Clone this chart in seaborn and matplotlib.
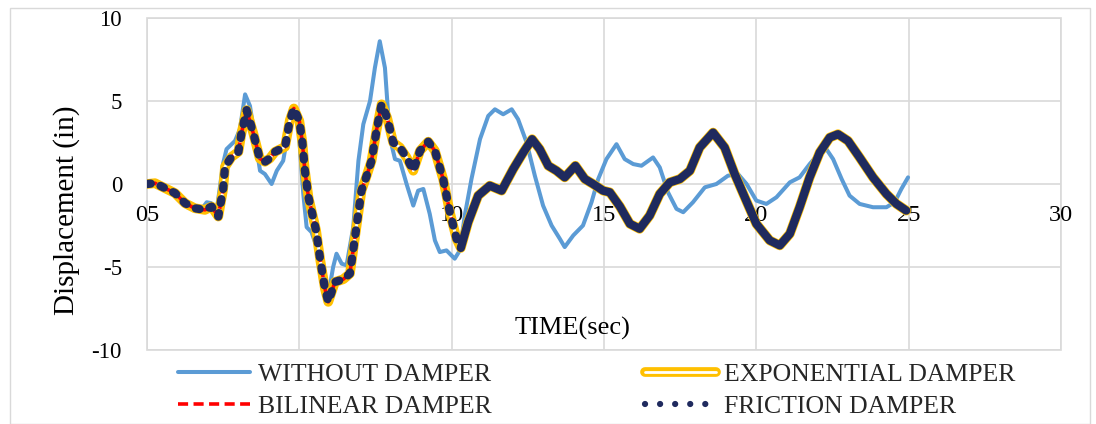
import matplotlib
matplotlib.use("Agg")
import matplotlib.pyplot as plt
import matplotlib.patheffects as pe
from matplotlib.patches import Rectangle
from matplotlib.lines import Line2D
import seaborn as sns

# ---------------- data ----------------
t_without = [0, 0.26, 0.6, 0.92, 1.25, 1.57, 1.8, 1.96, 2.1, 2.28, 2.5, 2.61, 2.89, 3.05, 3.22,
             3.38, 3.54, 3.71, 3.87, 4.09, 4.26, 4.47, 4.64, 4.75, 4.86, 4.97, 5.13, 5.24, 5.4,
             5.57, 5.78, 5.94, 6.11, 6.22, 6.39, 6.55, 6.77, 6.94, 7.1, 7.32, 7.48, 7.64, 7.81,
             7.97, 8.14, 8.3, 8.52, 8.74, 8.9, 9.07, 9.28, 9.45, 9.61, 9.83, 10.1, 10.27, 10.43,
             10.65, 10.93, 11.2, 11.42, 11.69, 11.97, 12.18, 12.46, 12.73, 13.0, 13.28, 13.55,
             13.71, 13.99, 14.31, 14.59, 14.81, 15.08, 15.41, 15.68, 15.96, 16.23, 16.61, 16.83,
             17.1, 17.38, 17.6, 17.92, 18.31, 18.69, 19.07, 19.4, 19.68, 20.0, 20.33, 20.66,
             21.1, 21.42, 21.75, 22.03, 22.3, 22.52, 22.8, 23.06, 23.39, 23.83, 24.27, 24.54,
             24.76, 24.98]
d_without = [0.0, 0.05, -0.26, -0.55, -1.16, -1.46, -1.5, -1.1, -1.15, -1.7, 1.25, 2.1, 2.6, 3.3, 5.4,
             4.7, 2.8, 0.8, 0.6, 0.0, 0.8, 1.4, 3.2, 4.4, 4.4, 3.4, -0.6, -2.6, -2.9,
             -3.8, -6.0, -6.8, -5.0, -4.2, -4.8, -4.9, -2.6, 1.4, 3.6, 5.0, 7.0, 8.6, 7.0,
             2.8, 1.5, 1.4, 0.0, -1.3, -0.4, -0.3, -1.8, -3.4, -4.1, -4.0, -4.5, -4.0, -1.9,
             0.3, 2.7, 4.1, 4.5, 4.2, 4.5, 3.9, 2.5, 0.5, -1.3, -2.5, -3.3,
             -3.8, -3.1, -2.5, -1.1, 0.3, 1.5, 2.4, 1.5, 1.2, 1.1, 1.6, 1.0,
             -0.5, -1.5, -1.7, -1.1, -0.2, 0.0, 0.5, 0.6, 0.0, -1.0, -1.2, -0.8,
             0.1, 0.4, 1.2, 1.8, 2.1, 1.5, 0.3, -0.7, -1.2, -1.4, -1.4, -1.1,
             -0.3, 0.4]

t_damped = [0, 0.26, 0.6, 0.92, 1.25, 1.57, 1.9, 2.12, 2.34, 2.5, 2.56, 2.78, 3.0, 3.1, 3.27, 3.49,
            3.7, 3.87, 4.03, 4.2, 4.53, 4.69, 4.82, 5.0, 5.1, 5.18, 5.3, 5.45, 5.55, 5.68, 5.84,
            5.95, 6.17, 6.44, 6.66, 6.88, 7.04, 7.21, 7.37, 7.54, 7.7, 7.88, 8.08, 8.3, 8.52,
            8.74, 8.96, 9.23, 9.45, 9.72, 9.94, 10.16, 10.3, 10.54, 10.87, 11.25, 11.64, 12.02,
            12.35, 12.64, 12.89, 13.17, 13.44, 13.71, 14.06, 14.37, 14.64, 14.97, 15.19, 15.52,
            15.85, 16.17, 16.5, 16.83, 17.16, 17.49, 17.82, 18.14, 18.58, 18.96, 19.29, 19.62,
            20.0, 20.44, 20.77, 21.1, 21.42, 21.75, 22.08, 22.41, 22.68, 23.01, 23.39, 23.83,
            24.27, 24.6, 24.92]
# exponential, bilinear and friction damper responses coincide on the chart
d_exponential = [0.0, 0.05, -0.26, -0.55, -1.16, -1.46, -1.56, -1.36, -1.96, -0.3, 1.04, 1.64, 1.94,
                 3.05, 4.45, 3.05, 1.54, 1.34, 1.54, 1.94, 2.24, 3.85, 4.55, 3.8, 2.5, 0.85, -0.8,
                 -2.0, -2.8, -4.5, -6.3, -7.1, -5.9, -5.74, -5.4, -2.5, -0.4, 0.5, 1.4, 3.3, 4.8,
                 4.0, 2.5, 2.2, 1.6, 0.8, 2.0, 2.55, 2.0, 0.3, -1.7, -3.3, -3.85, -2.3, -0.7, -0.1,
                 -0.4, 0.9, 1.9, 2.7, 2.1, 1.1, 0.8, 0.4, 1.1, 0.3, 0.0, -0.4, -0.5, -1.35, -2.4,
                 -2.7, -1.9, -0.6, 0.1, 0.3, 0.8, 2.2, 3.1, 2.2, 0.6, -0.8, -2.4, -3.4, -3.7, -3.0,
                 -1.4, 0.4, 1.9, 2.8, 3.0, 2.6, 1.6, 0.4, -0.6, -1.2, -1.6]
d_bilinear = list(d_exponential)
d_friction = list(d_exponential)

y_ticks = [-10, -5, 0, 5, 10]
x_ticks = [0, 5, 10, 15, 20, 25, 30]
x_tick_labels = ["05", "", "10", "15", "20", "25", "30"]

labels = ["WITHOUT DAMPER", "EXPONENTIAL DAMPER", "BILINEAR DAMPER", "FRICTION DAMPER"]

# ---------------- style ----------------
sns.set_theme(style="white")
plt.rcParams["font.family"] = ["Liberation Serif", "DejaVu Serif"]

GRID = "#D9D9D9"
C_BLUE = "#5B9BD5"
C_YEL = "#FFC000"
C_RED = "#FF0000"
C_NAVY = "#1F2A5E"

fig = plt.figure(figsize=(10.96, 4.24), dpi=100)
fig.patches.append(Rectangle((10 / 1096, 0), 1080 / 1096, 1 - 8 / 424, transform=fig.transFigure,
                             fill=False, edgecolor=GRID, linewidth=1.0))
ax = fig.add_axes([147 / 1096, 1 - 350 / 424, 914 / 1096, 332 / 424])

sns.lineplot(x=t_without, y=d_without, ax=ax, color=C_BLUE, linewidth=2.9, sort=False,
             estimator=None, label=labels[0], solid_capstyle="round")
sns.lineplot(x=t_damped, y=d_exponential, ax=ax, color="white", linewidth=2.0, sort=False,
             estimator=None, label=labels[1],
             path_effects=[pe.Stroke(linewidth=7.0, foreground=C_YEL), pe.Normal()])
sns.lineplot(x=t_damped, y=d_bilinear, ax=ax, color=C_RED, linewidth=2.6, sort=False,
             estimator=None, label=labels[2], dashes=False, linestyle=(0, (2.8, 1.5)))

# friction damper: the dotted pattern is visible in the early part, merges into solid later
n_dot = sum(1 for t in t_damped if t <= 10.3)
sns.lineplot(x=t_damped[:n_dot], y=d_friction[:n_dot], ax=ax, color=C_NAVY, linewidth=6.0,
             sort=False, estimator=None, linestyle=(0, (0.45, 1.25)), dash_capstyle="round")
sns.lineplot(x=t_damped[n_dot - 1:], y=d_friction[n_dot - 1:], ax=ax, color=C_NAVY,
             linewidth=6.0, sort=False, estimator=None, solid_capstyle="round",
             solid_joinstyle="round")

ax.set_xlim(0, 30)
ax.set_ylim(-10, 10)
ax.set_xticks(x_ticks)
ax.set_xticklabels(x_tick_labels)
ax.set_yticks(y_ticks)
ax.set_yticklabels([str(v) for v in y_ticks])
ax.grid(True, color=GRID, linewidth=1.2)
ax.set_axisbelow(True)

for s in ["top", "left", "right"]:
    ax.spines[s].set_visible(False)
ax.spines["bottom"].set_position(("data", 0))
ax.spines["bottom"].set_visible(False)
ax.add_patch(Rectangle((0, 0), 1, 1, transform=ax.transAxes, fill=False, edgecolor=GRID,
                       linewidth=1.2, clip_on=False, zorder=0.5))

ax.tick_params(axis="x", length=0, pad=15, labelsize=17.5, labelcolor="black")
ax.tick_params(axis="y", length=0, pad=18, labelsize=16.5, labelcolor="black")

ax.set_xlabel("TIME(sec)", fontsize=19, color="black")
ax.xaxis.set_label_coords(0.465, 0.1)
ax.set_ylabel("Displacement (in)", fontsize=21, color="black")
ax.yaxis.set_label_coords(-0.073, 0.42)

# legend: column-wise order
handles, labs = ax.get_legend_handles_labels()
hmap = dict(zip(labs, handles))
hmap[labels[3]] = Line2D([], [], color=C_NAVY, linewidth=4.5, linestyle=(0, (0.01, 2.4)),
                         dash_capstyle="round")
order = [labels[0], labels[2], labels[1], labels[3]]
ax.legend([hmap[l] for l in order], order, loc="upper left",
          bbox_to_anchor=(178 / 1096, 1 - 363 / 424), bbox_transform=fig.transFigure,
          ncol=2, frameon=False, fontsize=18.5, handlelength=2.8, handletextpad=0.31,
          columnspacing=5.95, labelspacing=0.37, borderpad=0, borderaxespad=0)

fig.savefig("out.png", dpi=100)
